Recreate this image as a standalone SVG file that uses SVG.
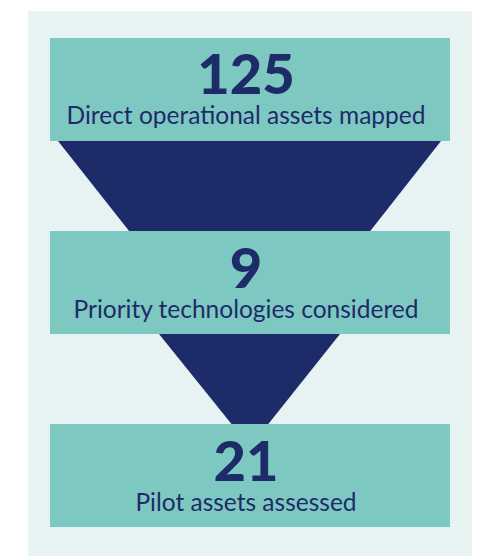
<svg xmlns="http://www.w3.org/2000/svg" width="494" height="556" viewBox="0 0 494 556">
<style>
.box{fill:#7ec8c2}
.tri{fill:#1e2b69}
.num{font-family:Lato,"Noto Sans",sans-serif;font-weight:900;font-size:56px;fill:#1e2b69;text-anchor:middle}
.lbl{font-family:Lato,"Noto Sans",sans-serif;font-weight:400;font-size:24.5px;fill:#1e2b69;text-anchor:middle}
</style>
<rect x="28" y="11" width="444" height="545" fill="#e7f3f3"/>
<g id="connectors">
<polygon class="tri" points="58,141 441,141 250,384"/>
<polygon class="tri" points="159,334 340,334 250,447"/>
</g>
<g id="node1">
<rect class="box" x="50" y="38" width="400" height="103"/>
<text class="num" x="246" y="94">125</text>
<text class="lbl" x="246" y="124">Direct operational assets mapped</text>
</g>
<g id="node2">
<rect class="box" x="50" y="231" width="400" height="103"/>
<text class="num" x="246" y="288">9</text>
<text class="lbl" x="246" y="318">Priority technologies considered</text>
</g>
<g id="node3">
<rect class="box" x="50" y="424" width="400" height="103"/>
<text class="num" x="246" y="481">21</text>
<text class="lbl" x="246" y="511">Pilot assets assessed</text>
</g>
</svg>
